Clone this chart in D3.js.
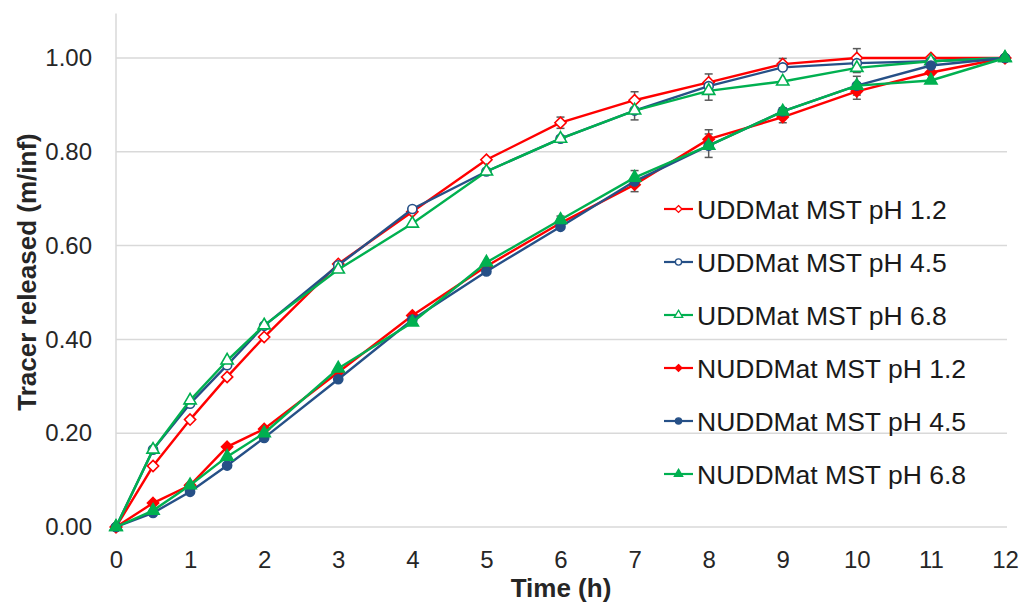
<!DOCTYPE html>
<html>
<head>
<meta charset="utf-8">
<script src="https://cdn.jsdelivr.net/npm/d3@7"></script>
<style>
  body { margin: 0; background: #fff; }
  svg { display: block; font-family: "Liberation Sans", Arial, sans-serif; }
</style>
</head>
<body>
<div id="chart"></div>
<script>
// sampling times (h)
var times = [0, 0.5, 1, 1.5, 2, 3, 4, 5, 6, 7, 8, 9, 10, 11, 12];

// tracer released (m/inf)
var uddPh12  = [0, 0.130, 0.229, 0.320, 0.405, 0.561, 0.672, 0.783, 0.862, 0.910, 0.948, 0.987, 1.000, 1.000, 1.000];
var uddPh45  = [0, 0.165, 0.263, 0.345, 0.429, 0.558, 0.678, 0.758, 0.828, 0.888, 0.940, 0.980, 0.989, 0.993, 1.000];
var uddPh68  = [0, 0.165, 0.270, 0.355, 0.430, 0.549, 0.647, 0.758, 0.828, 0.888, 0.930, 0.950, 0.979, 0.993, 1.000];
var nuddPh12 = [0, 0.051, 0.089, 0.171, 0.209, 0.330, 0.451, 0.556, 0.648, 0.730, 0.827, 0.874, 0.929, 0.969, 1.000];
var nuddPh45 = [0, 0.030, 0.075, 0.131, 0.190, 0.315, 0.442, 0.545, 0.640, 0.737, 0.813, 0.886, 0.941, 0.984, 1.000];
var nuddPh68 = [0, 0.035, 0.089, 0.150, 0.200, 0.338, 0.436, 0.564, 0.655, 0.745, 0.813, 0.886, 0.941, 0.952, 1.000];

// error bars (+/-), only visible on a few points
var uddPh12Err  = [0, 0, 0, 0, 0, 0, 0, 0, 0.012, 0.018, 0.018, 0.012, 0.02, 0, 0];
var uddPh68Err  = [0, 0, 0, 0, 0, 0, 0, 0, 0.006, 0.02, 0.02, 0, 0.01, 0, 0];
var nuddPh12Err = [0, 0, 0, 0, 0, 0, 0, 0, 0.01, 0.015, 0.02, 0.012, 0.017, 0, 0];
var nuddPh68Err = [0, 0, 0, 0, 0, 0, 0, 0, 0.008, 0.015, 0.025, 0.008, 0.02, 0, 0];
var noErr       = [0, 0, 0, 0, 0, 0, 0, 0, 0, 0, 0, 0, 0, 0, 0];

var seriesNames = ["UDDMat MST pH 1.2", "UDDMat MST pH 4.5", "UDDMat MST pH 6.8",
                   "NUDDMat MST pH 1.2", "NUDDMat MST pH 4.5", "NUDDMat MST pH 6.8"];
var seriesValues = [uddPh12, uddPh45, uddPh68, nuddPh12, nuddPh45, nuddPh68];
var seriesErrors = [uddPh12Err, noErr, uddPh68Err, nuddPh12Err, noErr, nuddPh68Err];

var xTicks = [0, 1, 2, 3, 4, 5, 6, 7, 8, 9, 10, 11, 12];
var yTicks = [0, 0.2, 0.4, 0.6, 0.8, 1.0];

var red = "#ff0000", blue = "#265087", green = "#00b050";
var styles = [
    {color: red,   shape: d3.symbolDiamond2, fill: false},
    {color: blue,  shape: d3.symbolCircle,   fill: false},
    {color: green, shape: d3.symbolTriangle, fill: false},
    {color: red,   shape: d3.symbolDiamond2, fill: true},
    {color: blue,  shape: d3.symbolCircle,   fill: true},
    {color: green, shape: d3.symbolTriangle, fill: true}
];

var W = 1024, H = 604;
var plotLeft = 116, plotRight = 1005, plotTop = 58, plotBottom = 527;

var x = d3.scaleLinear().domain([0, 12]).range([plotLeft, plotRight]);
var y = d3.scaleLinear().domain([0, 1]).range([plotBottom, plotTop]);

var svg = d3.select("#chart").append("svg")
    .attr("width", W)
    .attr("height", H);

// horizontal gridlines
svg.append("g")
    .selectAll("line")
    .data(yTicks)
    .enter().append("line")
    .attr("x1", plotLeft)
    .attr("x2", plotRight + 2)
    .attr("y1", function(d) { return y(d); })
    .attr("y2", function(d) { return y(d); })
    .attr("stroke", "#d9d9d9")
    .attr("stroke-width", 1.5);

// vertical axis line (runs above the 1.00 line, top got cropped)
svg.append("line")
    .attr("x1", plotLeft).attr("x2", plotLeft)
    .attr("y1", y(1.095)).attr("y2", y(0))
    .attr("stroke", "#d9d9d9")
    .attr("stroke-width", 1.5);

// y-axis labels
var yAxis = svg.append("g")
    .attr("transform", "translate(" + (plotLeft - 24) + ",0)")
    .call(d3.axisLeft(y).tickValues(yTicks).tickSize(0).tickPadding(0).tickFormat(d3.format(".2f")));
yAxis.select(".domain").remove();
yAxis.selectAll("text")
    .attr("font-size", 24)
    .attr("font-family", "Liberation Sans, Arial, sans-serif")
    .attr("fill", "#262626");

// x-axis labels
var xAxis = svg.append("g")
    .attr("transform", "translate(0," + (plotBottom + 24) + ")")
    .call(d3.axisBottom(x).tickValues(xTicks).tickSize(0).tickPadding(0).tickFormat(d3.format("d")));
xAxis.select(".domain").remove();
xAxis.selectAll("text")
    .attr("font-size", 24)
    .attr("font-family", "Liberation Sans, Arial, sans-serif")
    .attr("fill", "#262626");

// axis titles
svg.append("text")
    .attr("x", 561)
    .attr("y", 597)
    .attr("text-anchor", "middle")
    .attr("font-size", 26)
    .attr("font-weight", "bold")
    .attr("fill", "#262626")
    .text("Time (h)");

svg.append("text")
    .attr("transform", "translate(36," + 272 + ") rotate(-90)")
    .attr("text-anchor", "middle")
    .attr("font-size", 26)
    .attr("font-weight", "bold")
    .attr("fill", "#262626")
    .text("Tracer released (m/inf)");

// error bars
seriesValues.forEach(function(vals, s) {
    var errs = seriesErrors[s];
    var g = svg.append("g");
    times.forEach(function(t, i) {
        if (!errs[i]) return;
        var cx = x(t), y1 = y(vals[i] - errs[i]), y2 = y(vals[i] + errs[i]);
        g.append("line").attr("x1", cx).attr("x2", cx).attr("y1", y1).attr("y2", y2)
            .attr("stroke", "#595959").attr("stroke-width", 1.5);
        [y1, y2].forEach(function(yy) {
            g.append("line").attr("x1", cx - 4).attr("x2", cx + 4).attr("y1", yy).attr("y2", yy)
                .attr("stroke", "#595959").attr("stroke-width", 1.5);
        });
    });
});

// lines and markers
var line = d3.line()
    .x(function(d) { return x(d[0]); })
    .y(function(d) { return y(d[1]); });

function symbolSize(shape) {
    if (shape === d3.symbolCircle) return 65;
    if (shape === d3.symbolTriangle) return 65;
    return 80;
}

seriesValues.forEach(function(vals, s) {
    var st = styles[s];
    var pts = times.map(function(t, i) { return [t, vals[i]]; });
    var g = svg.append("g");
    g.append("path")
        .datum(pts)
        .attr("d", line)
        .attr("fill", "none")
        .attr("stroke", st.color)
        .attr("stroke-width", 2.4);
    g.selectAll("path.mark")
        .data(pts)
        .enter().append("path")
        .attr("class", "mark")
        .attr("transform", function(d) { return "translate(" + x(d[0]) + "," + y(d[1]) + ")"; })
        .attr("d", d3.symbol().type(st.shape).size(symbolSize(st.shape)))
        .attr("fill", st.fill ? st.color : "#fff")
        .attr("stroke", st.color)
        .attr("stroke-width", 1.6);
});

// legend
var legendX = 664, legendY = 209, legendGap = 53;
var legend = svg.append("g");
seriesNames.forEach(function(name, s) {
    var st = styles[s];
    var ly = legendY + s * legendGap;
    legend.append("line")
        .attr("x1", legendX).attr("x2", legendX + 29)
        .attr("y1", ly).attr("y2", ly)
        .attr("stroke", st.color).attr("stroke-width", 2.2);
    legend.append("path")
        .attr("transform", "translate(" + (legendX + 14.5) + "," + ly + ")")
        .attr("d", d3.symbol().type(st.shape).size(30))
        .attr("fill", st.fill ? st.color : "#fff")
        .attr("stroke", st.color)
        .attr("stroke-width", 1.3);
    legend.append("text")
        .attr("x", legendX + 33)
        .attr("y", ly + 9.5)
        .attr("font-size", 26.5)
        .attr("fill", "#1a1a1a")
        .text(name);
});
</script>
</body>
</html>
